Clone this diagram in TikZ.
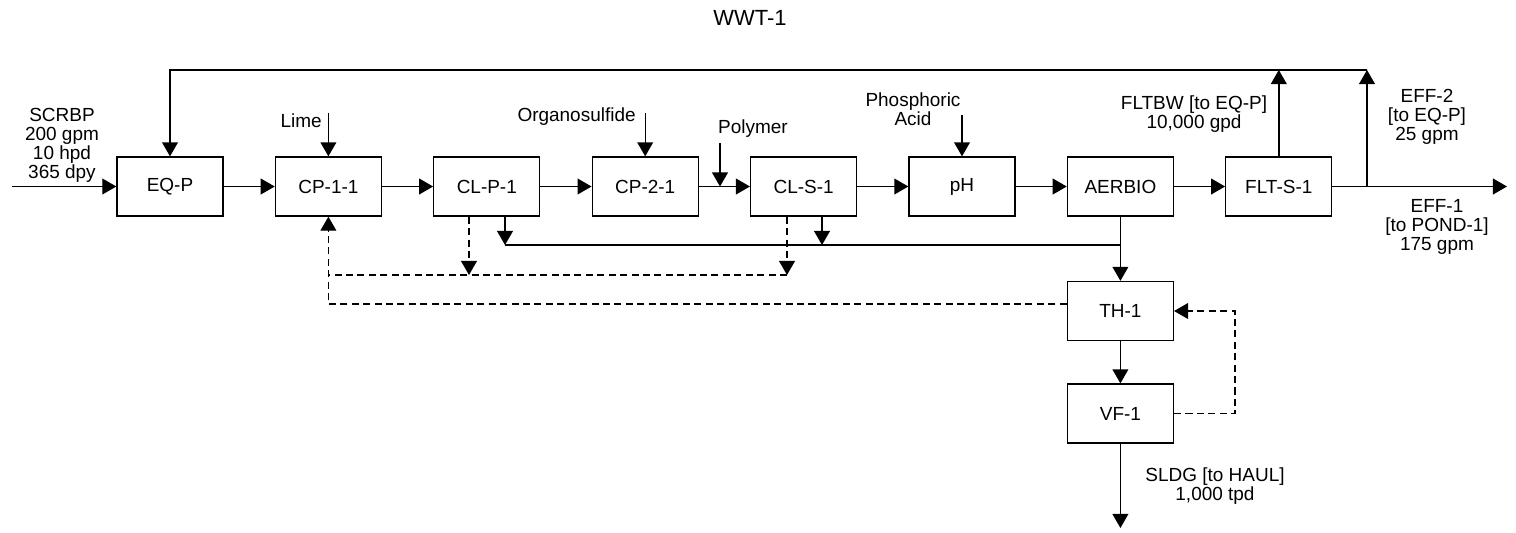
\documentclass[tikz,border=0pt]{standalone}
\usepackage{fontspec}
\setmainfont{Liberation Sans}
\usetikzlibrary{arrows.meta}

\begin{document}
\begin{tikzpicture}[x=0.02cm,y=-0.02cm,
  unit/.style={draw,line width=0.75pt,minimum width=2.12cm,minimum height=1.18cm,inner sep=0pt,font=\fontsize{10.8}{10.8}\selectfont},
  pipe/.style={line width=0.8pt},
  flow/.style={pipe,-{Triangle[length=8pt,width=9pt]}},
  recyc/.style={line width=0.8pt,dash pattern=on 4pt off 2.5pt},
  recycflow/.style={recyc,-{Triangle[length=8pt,width=9pt]}},
  lbl/.style={align=center,inner sep=0pt,font=\fontsize{10.8}{10.8}\selectfont}]
\useasboundingbox (0,0) rectangle (1516,532);

% Title
\node[font=\fontsize{12.5}{13}\selectfont] (title) at (750,18) {WWT-1};

% Process units
\node[unit] (eqp)  at (170,186.5)    {EQ-P};
\node[unit] (cp11) at (328.4,186.5)  {CP-1-1};
\node[unit] (clp1) at (486.8,186.5)  {CL-P-1};
\node[unit] (cp21) at (645.2,186.5)  {CP-2-1};
\node[unit] (cls1) at (803.6,186.5)  {CL-S-1};
\node[unit] (ph)   at (962,186.5)    {pH};
\node[unit] (aer)  at (1120.4,186.5) {AERBIO};
\node[unit] (flts) at (1278.8,186.5) {FLT-S-1};
\node[unit] (th1)  at (1120.4,311)   {TH-1};
\node[unit] (vf1)  at (1120.4,413.5) {VF-1};

% Feed
\coordinate (feed) at (12,186.5);
\node[lbl] (scrbp) at (62,145) {SCRBP\\200 gpm\\10 hpd\\365 dpy};
\draw[flow] (feed) -- (eqp);

% Main line
\draw[flow] (eqp) -- (cp11);
\draw[flow] (cp11) -- (clp1);
\draw[flow] (clp1) -- (cp21);
\draw[flow] (cp21) -- (cls1);
\draw[flow] (cls1) -- (ph);
\draw[flow] (ph) -- (aer);
\draw[flow] (aer) -- (flts);
\coordinate (split) at (1367,186.5);
\coordinate (eff1) at (1507,186.5);
\draw[flow] (flts) -- (eff1);
\node[lbl] (eff1lbl) at (1437,227) {EFF-1\\{}[to POND-1]\\175 gpm};

% Chemical feeds
\coordinate (lime) at (328.4,113);
\node[lbl,anchor=east] (limelbl) at (322,121) {Lime};
\draw[flow] (lime) -- (cp11.north);
\coordinate (orgs) at (645.2,113);
\node[lbl,anchor=east] (orgslbl) at (636,117) {Organosulfide};
\draw[flow] (orgs) -- (cp21.north);
\coordinate (poly) at (720,143);
\node[lbl] (polylbl) at (753,129) {Polymer};
\draw[flow] (poly) -- (poly |- cls1.west);
\coordinate (phos) at (962,115);
\node[lbl] (phoslbl) at (913,109) {Phosphoric\\Acid};
\draw[flow] (phos) -- (ph.north);

% Backwash and effluent return to EQ-P
\coordinate (rec) at (1367,70);
\draw[flow] (split) -- (rec);
\draw[flow] (flts.north) -- (flts.north |- rec);
\draw[flow] (rec) -| (eqp.north);
\node[lbl] (fltbwlbl) at (1194,114) {FLTBW [to EQ-P]\\10,000 gpd};
\node[lbl] (eff2lbl) at (1427,117) {EFF-2\\{}[to EQ-P]\\25 gpm};

% Sludge lines
\coordinate (bus) at (1120.4,245);
\coordinate (clpu) at (505,245);
\coordinate (clsu) at (822,245);
\draw[pipe] (clpu) -- (bus);
\draw[flow] (clpu |- clp1.south) -- (clpu);
\draw[flow] (clsu |- cls1.south) -- (clsu);
\draw[flow] (aer.south) -- (th1.north);

% Recycle to CP-1-1
\coordinate (clpd) at (469,275);
\coordinate (clsd) at (787,275);
\coordinate (ret) at (328.4,275);
\coordinate (thret) at (328.4,304);
\draw[recycflow] (clpd |- clp1.south) -- (clpd);
\draw[recycflow] (clsd |- cls1.south) -- (clsd);
\draw[recyc] (clsd) -- (ret);
\draw[recycflow] (thret -| th1.west) -- (thret) -- (cp11.south);

% Filtrate return and sludge out
\coordinate (filt) at (1235,413.5);
\draw[recycflow] (vf1.east) -- (filt) |- (th1.east);
\draw[flow] (th1) -- (vf1);
\coordinate (haul) at (1120.4,528);
\draw[flow] (vf1) -- (haul);
\node[lbl] (sldglbl) at (1215,486) {SLDG [to HAUL]\\1,000 tpd};
\end{tikzpicture}
\end{document}
